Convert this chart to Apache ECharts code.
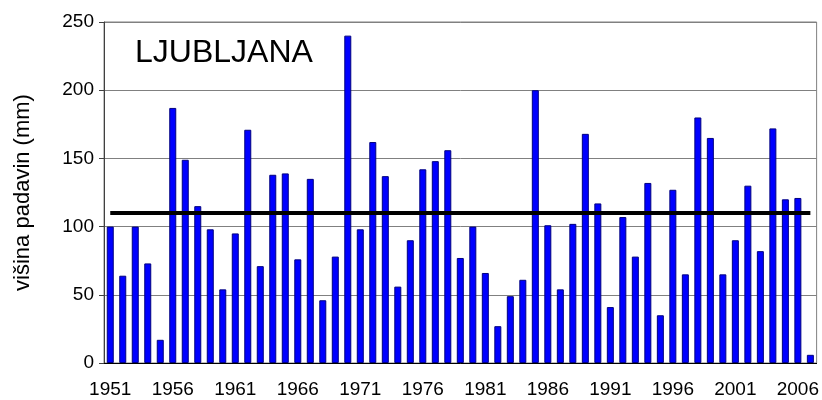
<!DOCTYPE html>
<html>
<head>
<meta charset="utf-8">
<script src="https://cdn.jsdelivr.net/npm/echarts@6/dist/echarts.min.js"></script>
<style>
  html, body { margin: 0; padding: 0; background: #fff; }
  #chart { width: 822px; height: 400px; }
</style>
</head>
<body>
<div id="chart"></div>
<script>
// years 1951..2007
const years = Array.from({ length: 57 }, (_, i) => String(1951 + i));

// precipitation per year (mm)
const precipitation = [
  100, 64, 100, 73, 17, 187, 149, 115, 98, 54,
  95, 171, 71, 138, 139, 76, 135, 46, 78, 240,
  98, 162, 137, 56, 90, 142, 148, 156, 77, 100,
  66, 27, 49, 61, 200, 101, 54, 102, 168, 117,
  41, 107, 78, 132, 35, 127, 65, 180, 165, 65,
  90, 130, 82, 172, 120, 121, 6
];

// long-term average
const meanValue = 110;

const yTicks = [0, 50, 100, 150, 200, 250];

const font = "'Liberation Sans', Arial, sans-serif";

const chart = echarts.init(document.getElementById("chart"));

chart.setOption({
  animation: false,
  title: {
    text: "LJUBLJANA",
    left: 130,
    top: 32,
    textStyle: { fontFamily: font, fontSize: 32, fontWeight: "normal", color: "#000" },
  },
  grid: {
    left: 104,
    right: 5,
    top: 22,
    bottom: 37,
    show: true,
    borderColor: "#808080",
    borderWidth: 1,
  },
  xAxis: {
    type: "category",
    data: years,
    boundaryGap: true,
    axisLine: { lineStyle: { color: "#000", width: 1 } },
    axisTick: { interval: 0, length: 6, lineStyle: { color: "#000" } },
    axisLabel: {
      interval: 4,
      margin: 17,
      fontFamily: font,
      fontSize: 19,
      color: "#000",
    },
    splitLine: { show: false },
  },
  yAxis: {
    type: "value",
    min: yTicks[0],
    max: yTicks[yTicks.length - 1],
    interval: 50,
    name: "višina padavin (mm)",
    nameLocation: "middle",
    nameGap: 70,
    nameTextStyle: { fontFamily: font, fontSize: 22, color: "#000" },
    axisLine: { show: true, lineStyle: { color: "#404040", width: 1 } },
    axisTick: { show: true, length: 5, lineStyle: { color: "#404040" } },
    axisLabel: { margin: 10, fontFamily: font, fontSize: 19, color: "#000" },
    splitLine: { lineStyle: { color: "#808080", width: 1 } },
  },
  series: [
    {
      type: "bar",
      data: precipitation,
      barWidth: 7,
      itemStyle: { color: "#0000FF", borderColor: "#000080", borderWidth: 1 },
      markLine: {
        silent: true,
        symbol: "none",
        label: { show: false },
        lineStyle: { color: "#000", width: 4, type: "solid" },
        data: [[{ coord: [0, meanValue] }, { coord: [years.length - 1, meanValue] }]],
      },
    },
  ],
});
</script>
</body>
</html>
